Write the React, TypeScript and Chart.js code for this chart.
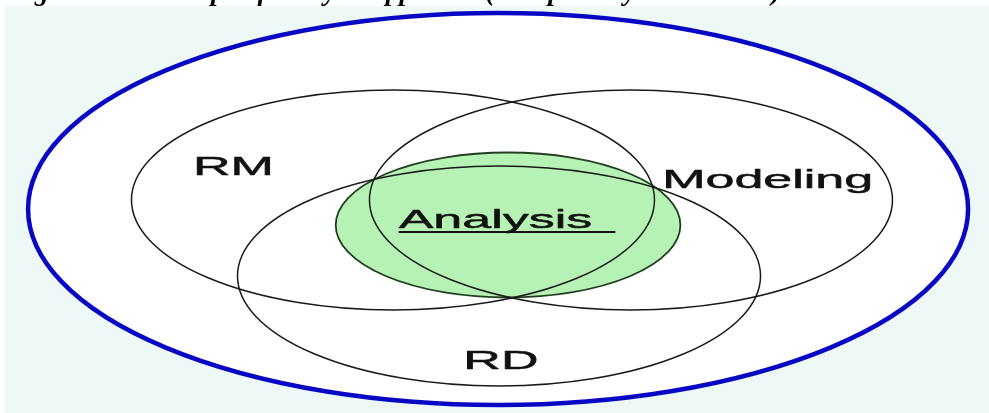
import React, { useEffect, useRef } from "react";
import { Chart, registerables } from "chart.js";

Chart.register(...registerables);

// ---- Data (diagram units: 1 unit = 1px vertically) ----
const captionText = "Figure 3: The scope of analysis approach (Compiled by the authors)";
const xRange = [-208, 208];
const yRange = [-206.5, 206.5];

const circleNames = ["RM", "Modeling", "RD"];
const circleCenterX = [-42.7, 57.4, 1.9];
const circleCenterY = [6.5, 6.5, -69.5];
const circleRadius = [110, 110, 110];

const analysisCenterX = 5.7;
const analysisCenterY = -18.5;
const analysisRadius = 72.5;

const outerCenterX = 1.5;
const outerCenterY = -2.5;
const outerRadiusX = 197.7;
const outerRadiusY = 196;

const labelTexts = ["RM", "Modeling", "Analysis", "RD"];
const labelX = [-109.8, 114.9, 0.4, 2.7];
const labelY = [31.5, 18.5, -21.5, -162.5];
const underlinedLabels = ["Analysis"];

const TEXT_STRETCH = 2.0;

const diagramPlugin = {
  id: "diagram",
  beforeDatasetsDraw(chart: any) {
    const { ctx, width, height } = chart;
    const xs = chart.scales.x;
    const ys = chart.scales.y;
    const px = (v: number) => xs.getPixelForValue(v);
    const py = (v: number) => ys.getPixelForValue(v);
    const rx = (r: number) => Math.abs(xs.getPixelForValue(r) - xs.getPixelForValue(0));
    const ry = (r: number) => Math.abs(ys.getPixelForValue(r) - ys.getPixelForValue(0));

    ctx.save();
    ctx.fillStyle = "#ffffff";
    ctx.fillRect(0, 0, width, height);
    ctx.fillStyle = "#eef8f7";
    ctx.fillRect(5, 6, width - 5, height - 6);

    // outer ellipse fill
    ctx.beginPath();
    ctx.ellipse(px(outerCenterX), py(outerCenterY), rx(outerRadiusX), ry(outerRadiusY), 0, 0, Math.PI * 2);
    ctx.fillStyle = "#ffffff";
    ctx.fill();

    // analysis (green) circle
    ctx.beginPath();
    ctx.ellipse(px(analysisCenterX), py(analysisCenterY), rx(analysisRadius), ry(analysisRadius), 0, 0, Math.PI * 2);
    ctx.fillStyle = "#b5f2b3";
    ctx.fill();
    ctx.lineWidth = 1.8;
    ctx.strokeStyle = "#1f3f1f";
    ctx.stroke();

    // three main circles
    circleNames.forEach((_, i) => {
      ctx.beginPath();
      ctx.ellipse(px(circleCenterX[i]), py(circleCenterY[i]), rx(circleRadius[i]), ry(circleRadius[i]), 0, 0, Math.PI * 2);
      ctx.lineWidth = 1.5;
      ctx.strokeStyle = "#1a1a1a";
      ctx.stroke();
    });

    // outer blue ellipse stroke
    ctx.beginPath();
    ctx.ellipse(px(outerCenterX), py(outerCenterY), rx(outerRadiusX), ry(outerRadiusY), 0, 0, Math.PI * 2);
    ctx.lineWidth = 4.5;
    ctx.strokeStyle = "#0808c4";
    ctx.stroke();
    ctx.restore();
  },
  afterDatasetsDraw(chart: any) {
    const { ctx } = chart;
    const meta = chart.getDatasetMeta(0);
    ctx.save();
    ctx.fillStyle = "#111111";
    ctx.strokeStyle = "#111111";
    ctx.lineWidth = 0.5;
    ctx.lineJoin = "round";
    ctx.font = '26px "Liberation Sans", Arial, sans-serif';
    ctx.textAlign = "center";
    ctx.textBaseline = "alphabetic";
    meta.data.forEach((el: any, i: number) => {
      const text = labelTexts[i];
      ctx.save();
      ctx.translate(el.x, el.y);
      ctx.scale(TEXT_STRETCH, 1);
      ctx.fillText(text, 0, 0);
      ctx.strokeText(text, 0, 0);
      if (underlinedLabels.includes(text)) {
        const w = ctx.measureText(text).width;
        const sp = ctx.measureText(" ").width;
        ctx.fillRect(-w / 2, 3, w + sp * 1.6, 2);
      }
      ctx.restore();
    });

    // caption (cut off at the top edge, as in the reference)
    ctx.textAlign = "left";
    ctx.font = 'italic bold 100px "Liberation Serif", "Times New Roman", serif';
    const w100 = ctx.measureText(captionText).width;
    const size = (100 * 772) / w100;
    ctx.font = `italic bold ${size}px "Liberation Serif", "Times New Roman", serif`;
    ctx.fillStyle = "#000000";
    ctx.fillText(captionText, 9, 0);
    ctx.restore();
  },
};

export default function App() {
  const canvasRef = useRef<HTMLCanvasElement | null>(null);

  useEffect(() => {
    document.body.style.margin = "0";
    const canvas = canvasRef.current;
    if (!canvas) return;
    const chart = new Chart(canvas, {
      type: "scatter",
      data: {
        datasets: [
          {
            label: "labels",
            data: labelX.map((v, i) => ({ x: v, y: labelY[i] })),
            pointRadius: 0,
            pointHoverRadius: 0,
            showLine: false,
          },
        ],
      },
      options: {
        animation: false,
        responsive: false,
        devicePixelRatio: 1,
        layout: { padding: 0 },
        events: [],
        scales: {
          x: { type: "linear", min: xRange[0], max: xRange[1], display: false },
          y: { type: "linear", min: yRange[0], max: yRange[1], display: false },
        },
        plugins: {
          legend: { display: false },
          tooltip: { enabled: false },
          title: { display: false },
        },
      },
      plugins: [diagramPlugin],
    });
    return () => chart.destroy();
  }, []);

  return (
    <div style={{ width: 989, height: 413, overflow: "hidden" }}>
      <canvas ref={canvasRef} width={989} height={413} style={{ display: "block" }} />
    </div>
  );
}
